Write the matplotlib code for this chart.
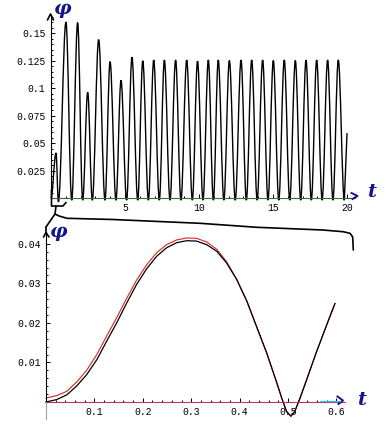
import matplotlib
matplotlib.use("Agg")
import matplotlib.pyplot as plt
from matplotlib.path import Path
from matplotlib.patches import PathPatch

W, H = 389, 429

# top plot: peaks and troughs
top_peak_t = [0.34, 1.01, 1.80, 2.48, 3.22, 3.99, 4.73, 5.47, 6.20, 6.94, 7.66, 8.42, 9.17, 9.90,
              10.63, 11.30, 12.05, 12.84, 13.56, 14.30, 15.02, 15.76, 16.51, 17.23, 17.95, 18.69, 19.41]
top_peak_phi = [0.041, 0.160, 0.1595, 0.096, 0.144, 0.124, 0.107, 0.128, 0.1248, 0.1255, 0.1255, 0.1255,
                0.1255, 0.1245, 0.1255, 0.1255, 0.125, 0.1255, 0.1255, 0.1255, 0.125, 0.1255, 0.125,
                0.1255, 0.1255, 0.1255, 0.1255]
top_trough_t = [0.50, 1.40, 2.14, 2.79, 3.65, 4.39, 5.11, 5.86, 6.58, 7.32, 8.04, 8.78, 9.55, 10.27,
                10.97, 11.68, 12.45, 13.20, 13.93, 14.66, 15.39, 16.13, 16.87, 17.59, 18.32, 19.05, 19.82]
top_trough_phi = [-0.0035, -0.002, -0.002, -0.002, -0.002, -0.002, -0.002, -0.002, -0.002, -0.002,
                  -0.002, -0.002, -0.002, -0.002, -0.002, -0.002, -0.002, -0.002, -0.002, -0.002,
                  -0.002, -0.002, -0.002, -0.002, -0.002, -0.002, -0.002]
top_start = (0.0, 0.0)
top_end = (20.0, 0.059)

top_xticks = [5, 10, 15, 20]
top_xlabels = ["5", "10", "15", "20"]
top_yticks = [0.025, 0.05, 0.075, 0.1, 0.125, 0.15]
top_ylabels = ["0.025", "0.05", "0.075", "0.1", "0.125", "0.15"]

# bottom plot: first period, zoomed (black curve and the red one just above it)
bot_t = [0.0, 0.022, 0.043, 0.063, 0.084, 0.105, 0.125, 0.146, 0.167, 0.187, 0.208, 0.229, 0.249,
         0.270, 0.291, 0.311, 0.332, 0.353, 0.373, 0.394, 0.415, 0.435, 0.456, 0.477, 0.487, 0.497,
         0.506, 0.514, 0.525, 0.539, 0.559, 0.580, 0.597]
bot_phi = [0.0, 0.0006, 0.0018, 0.0040, 0.0069, 0.0107, 0.0153, 0.0200, 0.0251, 0.0297, 0.0337,
           0.0369, 0.0390, 0.0403, 0.0408, 0.0407, 0.0398, 0.0381, 0.0352, 0.0310, 0.0255, 0.0191,
           0.0124, 0.0048, 0.0010, -0.0024, -0.0036, -0.0024, 0.0010, 0.0058, 0.0127, 0.0195, 0.0249]
bot_red_phi = [0.0010, 0.0016, 0.0027, 0.0050, 0.0080, 0.0120, 0.0166, 0.0213, 0.0263, 0.0308,
               0.0347, 0.0378, 0.0398, 0.0410, 0.0415, 0.0414, 0.0405, 0.0386, 0.0355, 0.0310,
               0.0255, 0.0191, 0.0124, 0.0048, 0.0010, -0.0024, -0.0036, -0.0024, 0.0010, 0.0058,
               0.0127, 0.0195, 0.0249]

bot_xticks = [0.1, 0.2, 0.3, 0.4, 0.5, 0.6]
bot_xlabels = ["0.1", "0.2", "0.3", "0.4", "0.5", "0.6"]
bot_yticks = [0.01, 0.02, 0.03, 0.04]
bot_ylabels = ["0.01", "0.02", "0.03", "0.04"]

ink = "#14148c"
mono = "Liberation Mono"


def px_axes(fig, left, right, top, bottom):
    return fig.add_axes([left / W, 1 - bottom / H, (right - left) / W, (bottom - top) / H])


def style_axes(ax, xcolor):
    for s in ["top", "right"]:
        ax.spines[s].set_visible(False)
    ax.spines["left"].set_position(("data", 0))
    ax.spines["bottom"].set_position(("data", 0))
    ax.spines["left"].set_linewidth(0.8)
    ax.spines["bottom"].set_linewidth(0.8)
    ax.spines["bottom"].set_color(xcolor)
    ax.patch.set_alpha(0)
    ax.tick_params(which="both", direction="in", width=0.7, labelsize=7)
    ax.tick_params(which="major", length=3)
    ax.tick_params(which="minor", length=1.5)
    ax.tick_params(axis="y", pad=4)
    ax.tick_params(axis="x", pad=3.5)
    for lab in ax.get_xticklabels() + ax.get_yticklabels():
        lab.set_fontfamily(mono)


def smooth_path(points, last_straight=True):
    # rounded oscillation through the read extremes (flat tangent at each one)
    verts = [points[0]]
    codes = [Path.MOVETO]
    n = len(points)
    for i in range(1, n):
        (t0, p0), (t1, p1) = points[i - 1], points[i]
        if last_straight and i == n - 1:
            verts.append((t1, p1))
            codes.append(Path.LINETO)
            continue
        dt = t1 - t0
        verts += [(t0 + 0.3642 * dt, p0), (t1 - 0.3642 * dt, p1), (t1, p1)]
        codes += [Path.CURVE4] * 3
    return Path(verts, codes)


fig = plt.figure(figsize=(W / 100, H / 100), dpi=100)

# ---- top plot
ax1 = px_axes(fig, 51, 355, 15, 204)
pts = [top_start]
for a, b, c, d in zip(top_peak_t, top_peak_phi, top_trough_t, top_trough_phi):
    pts += [(a, b), (c, d)]
pts.append(top_end)
ax1.add_patch(PathPatch(smooth_path(pts), fill=False, edgecolor="black", lw=1.0, clip_on=False))
ax1.set_xlim(0, 20.54)
ax1.set_ylim(-0.00545, 0.1664)
ax1.set_xticks(top_xticks)
ax1.set_xticklabels(top_xlabels)
ax1.set_yticks(top_yticks)
ax1.set_yticklabels(top_ylabels)
ax1.set_xticks([i for i in range(1, 21) if i % 5], minor=True)
ax1.set_yticks([i * 0.005 for i in range(1, 34) if i % 5], minor=True)
style_axes(ax1, "#3a6a3a")
ax1.spines["left"].set_bounds(0, 0.1664)

# ---- bottom plot
ax2 = px_axes(fig, 40, 345, 232, 420)
ax2.plot(bot_t, bot_red_phi, color="#e02020", lw=0.8)
ax2.plot(bot_t, bot_phi, color="black", lw=0.9)
ax2.set_xlim(-0.0124, 0.6178)
ax2.set_ylim(-0.00456, 0.043)
ax2.set_xticks(bot_xticks)
ax2.set_xticklabels(bot_xlabels)
ax2.set_yticks(bot_yticks)
ax2.set_yticklabels(bot_ylabels)
ax2.set_xticks([i * 0.02 for i in range(1, 31) if i % 5], minor=True)
ax2.set_yticks([i * 0.002 for i in range(1, 21) if i % 5], minor=True)
style_axes(ax2, "#c0306a")
ax2.spines["left"].set_bounds(0, 0.043)
ax2.spines["bottom"].set_bounds(0, 0.6178)
ax2.axvline(0, ymin=0, ymax=0.00456 / 0.04756, color="#a0a0a0", lw=0.8)

# ---- hand drawn marks, figure pixel coordinates
ov = fig.add_axes([0, 0, 1, 1])
ov.set_xlim(0, W)
ov.set_ylim(H, 0)
ov.axis("off")
hand = dict(color="black", lw=1.2, solid_capstyle="round", solid_joinstyle="round")
ov.plot([47.5, 50.5, 53.5], [20, 14, 20], **hand)
ov.plot([351.5, 357.5, 352.5], [193, 196, 199], color=ink, lw=1.4)
ov.plot([43.5, 46, 49], [237, 232.5, 237], **hand)
ov.plot([46, 46], [232.5, 227], **hand)
ov.plot([337.5, 343, 338.5], [396.5, 400.5, 404], color=ink, lw=1.4)
ov.plot([320, 340], [400.8, 400.8], color="#30c8d8", lw=0.9)
# brace under the first period
ov.plot([51.5, 51.5, 63, 66], [190, 206, 206, 202.5], **hand)
ov.plot([56, 55], [206, 214], **hand)
ov.plot([55, 46], [214, 227], **hand)
ov.plot([55, 59, 67, 113, 200, 257, 323, 343, 350, 352.7, 353.3],
        [214, 216, 218.3, 219.5, 223.3, 227.3, 230, 231.7, 233.3, 237, 250], **hand)

letter = dict(color=ink, fontsize=14, fontstyle="italic", fontweight="bold",
              family="DejaVu Serif", ha="center", va="center")
ov.text(63, 9, "φ", **letter)
ov.text(372, 192, "t", **letter)
ov.text(59, 232, "φ", **letter)
ov.text(362, 400, "t", **letter)

fig.savefig("out.png", dpi=100)
